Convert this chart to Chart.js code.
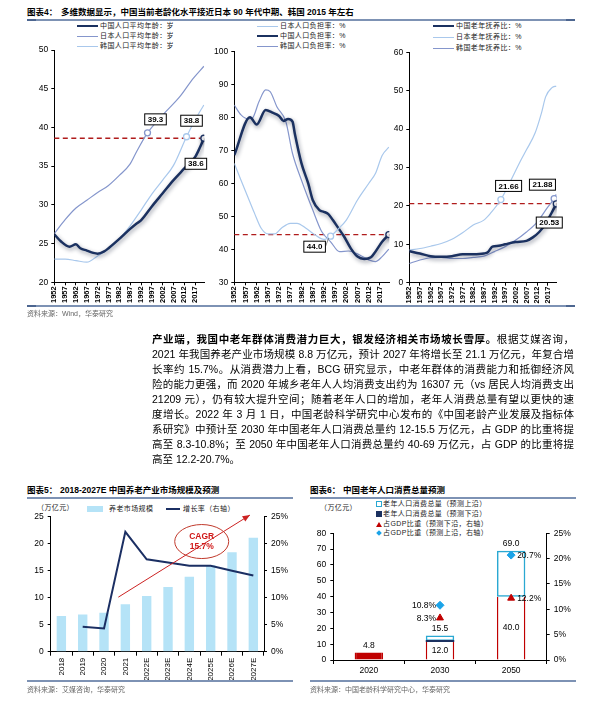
<!DOCTYPE html>
<html>
<head>
<meta charset="utf-8">
<script src="https://cdn.jsdelivr.net/npm/chart.js@4.4.1/dist/chart.umd.min.js"></script>
<style>
  body { margin:0; background:#fff; width:606px; height:725px; position:relative; overflow:hidden;
         font-family:"Liberation Sans","Noto Sans CJK SC",sans-serif; color:#000; }
  .a { position:absolute; white-space:nowrap; }
  .ttl { font-size:8.5px; font-weight:bold; line-height:11px; }
  .rule { position:absolute; height:1.5px; background:#7d92b4; }
  .rule b { position:absolute; top:-0.5px; width:9px; height:2.5px; background:#4d6690; }
  .src { font-size:7px; color:#666; }
  .lg { font-size:7px; color:#222; letter-spacing:0.4px; }
  .lg i { display:inline-block; vertical-align:middle; width:21px; margin-right:2px; }
  .pl { position:absolute; left:152px; width:422px; height:15px; line-height:15px; font-size:10.5px;
        text-align:justify; text-align-last:justify; }
  canvas { position:absolute; }
</style>
</head>
<body>

<!-- 图表4 -->
<div class="a ttl" style="left:27px;top:7px;">图表4：</div>
<div class="a ttl" style="left:61px;top:7px;">多维数据显示，中国当前老龄化水平接近日本 90 年代中期、韩国 2015 年左右</div>
<div class="rule" style="left:27px;top:19px;width:548px;"><b style="left:0"></b><b style="right:0"></b></div>

<div class="a lg" style="left:77px;top:20px;"><i style="height:2.5px;background:#1b3160"></i>中国人口平均年龄：岁</div>
<div class="a lg" style="left:77px;top:30px;"><i style="height:1px;background:#8596cc"></i>日本人口平均年龄：岁</div>
<div class="a lg" style="left:77px;top:40px;"><i style="height:1px;background:#a9c8ec"></i>韩国人口平均年龄：岁</div>

<div class="a lg" style="left:257px;top:20px;"><i style="height:1px;background:#a9c8ec"></i>日本人口负担率：%</div>
<div class="a lg" style="left:257px;top:30px;"><i style="height:2.5px;background:#1b3160"></i>中国人口负担率：%</div>
<div class="a lg" style="left:257px;top:40px;"><i style="height:1px;background:#8596cc"></i>韩国人口负担率：%</div>

<div class="a lg" style="left:433px;top:20px;"><i style="height:2.5px;background:#1b3160"></i>中国老年抚养比：%</div>
<div class="a lg" style="left:433px;top:31px;"><i style="height:1px;background:#a9c8ec"></i>日本老年抚养比：%</div>
<div class="a lg" style="left:433px;top:42px;"><i style="height:1px;background:#8596cc"></i>韩国老年抚养比：%</div>

<canvas id="c1" width="190" height="272" style="left:20px;top:40px;"></canvas>
<canvas id="c2" width="195" height="272" style="left:200px;top:40px;"></canvas>
<canvas id="c3" width="190" height="272" style="left:375px;top:40px;"></canvas>

<div class="rule" style="left:27px;top:305px;width:548px;"><b style="left:0"></b><b style="right:0"></b></div>
<div class="a src" style="left:27px;top:308px;">资料来源：Wind，华泰研究</div>

<!-- 正文 -->
<div class="pl" style="top:332px;"><b>产业端，我国中老年群体消费潜力巨大，银发经济相关市场坡长雪厚。</b>根据艾媒咨询，</div>
<div class="pl" style="top:347px;">2021 年我国养老产业市场规模 8.8 万亿元，预计 2027 年将增长至 21.1 万亿元，年复合增</div>
<div class="pl" style="top:362px;">长率约 15.7%。从消费潜力上看，BCG 研究显示，中老年群体的消费能力和抵御经济风</div>
<div class="pl" style="top:377px;">险的能力更强，而 2020 年城乡老年人人均消费支出约为 16307 元（vs 居民人均消费支出</div>
<div class="pl" style="top:392px;">21209 元），仍有较大提升空间；随着老年人口的增加，老年人消费总量有望以更快的速</div>
<div class="pl" style="top:407px;">度增长。2022 年 3 月 1 日，中国老龄科学研究中心发布的《中国老龄产业发展及指标体</div>
<div class="pl" style="top:422px;">系研究》中预计至 2030 年中国老年人口消费总量约 12-15.5 万亿元，占 GDP 的比重将提</div>
<div class="pl" style="top:437px;">高至 8.3-10.8%；至 2050 年中国老年人口消费总量约 40-69 万亿元，占 GDP 的比重将提</div>
<div class="pl" style="top:452px;text-align-last:left;">高至 12.2-20.7%。</div>

<!-- 图表5 -->
<div class="a ttl" style="left:27px;top:485px;">图表5：</div>
<div class="a ttl" style="left:60px;top:485px;">2018-2027E 中国养老产业市场规模及预测</div>
<div class="rule" style="left:27px;top:497px;width:266px;"></div>
<div class="a lg" style="left:37px;top:502px;">（万亿元）</div>
<div class="a lg" style="left:87px;top:503px;"><i style="width:16px;height:6px;background:#b5e3f7;margin-right:6px"></i>养老市场规模</div>
<div class="a lg" style="left:166px;top:503px;"><i style="width:14px;height:2px;background:#1b2f63;margin-right:3px"></i>增长率（右轴）</div>
<canvas id="c5" width="295" height="180" style="left:15px;top:505px;"></canvas>
<div class="rule" style="left:27px;top:680px;width:266px;"></div>
<div class="a src" style="left:27px;top:684px;">资料来源：艾媒咨询，华泰研究</div>

<!-- 图表6 -->
<div class="a ttl" style="left:310px;top:485px;">图表6：</div>
<div class="a ttl" style="left:343px;top:485px;">中国老年人口消费总量预测</div>
<div class="rule" style="left:310px;top:497px;width:266px;"></div>
<div class="a lg" style="left:320px;top:502px;">（万亿元）</div>
<div class="a lg" style="left:376px;top:498px;"><i style="width:4px;height:4px;border:1px solid #2aa8d2;margin-right:1px"></i>老年人口消费总量（预测上沿）</div>
<div class="a lg" style="left:376px;top:508px;"><i style="width:6px;height:6px;background:#1b3160;margin-right:1px"></i>老年人口消费总量（预测下沿）</div>
<div class="a lg" style="left:376px;top:518px;"><i style="width:0;height:0;border-left:3px solid transparent;border-right:3px solid transparent;border-bottom:5px solid #c00000;margin-right:1px"></i>占GDP比重（预测下沿，右轴）</div>
<div class="a lg" style="left:376px;top:527px;"><i style="width:4px;height:4px;background:#1aa3e8;transform:rotate(45deg);margin:0 2px 0 1px"></i>占GDP比重（预测上沿，右轴）</div>
<canvas id="c6" width="290" height="170" style="left:295px;top:515px;"></canvas>
<div class="rule" style="left:310px;top:680px;width:266px;"></div>
<div class="a src" style="left:310px;top:684px;">资料来源：中国老龄科学研究中心，华泰研究</div>

<script>
// ---------- data ----------
var yearTicks = [1952, 1957, 1962, 1967, 1972, 1977, 1982, 1987, 1992, 1997, 2002, 2007, 2012, 2017];

// 人口平均年龄（岁）
var ageCnYears = [1952, 1955, 1959, 1962, 1964, 1967, 1970, 1972, 1975, 1977, 1982, 1987, 1990, 1992, 1997, 2002, 2007, 2012, 2017, 2019, 2021];
var ageCnVals  = [26.2, 25.3, 24.6, 24.9, 24.4, 24.1, 23.8, 23.7, 24.0, 24.4, 25.6, 26.9, 27.6, 28.0, 29.8, 31.5, 33.2, 34.7, 36.2, 37.3, 38.6];
var ageJpYears = [1952, 1957, 1962, 1967, 1972, 1977, 1982, 1987, 1990, 1995, 2002, 2010, 2016, 2021];
var ageJpVals  = [26.3, 28.1, 29.6, 30.6, 31.6, 32.5, 33.8, 35.3, 36.9, 39.3, 41.6, 44.0, 46.3, 47.9];
var ageKrYears = [1952, 1957, 1962, 1967, 1972, 1977, 1982, 1987, 1992, 1997, 2002, 2007, 2013, 2017, 2021];
var ageKrVals  = [23.0, 23.0, 22.8, 22.6, 23.4, 24.3, 25.6, 27.3, 29.3, 31.4, 33.2, 35.1, 38.8, 41.0, 42.9];

// 人口负担率（%）
var depCnYears = [1952, 1959, 1962, 1966, 1969, 1972, 1974, 1976, 1978, 1979, 1982, 1985, 1987, 1990, 1992, 1994, 1996, 1998, 2001, 2004, 2007, 2010, 2013, 2015, 2018, 2021];
var depCnVals  = [68.6, 80.1, 77.9, 82.3, 81.5, 80.5, 79.0, 79.6, 78.8, 75.2, 66.1, 60.0, 55.0, 51.9, 51.4, 50.7, 48.9, 46.9, 43.9, 40.3, 37.8, 37.1, 37.6, 39.3, 42.3, 44.5];
var depJpYears = [1952, 1955, 1958, 1961, 1964, 1967, 1970, 1973, 1977, 1980, 1984, 1988, 1992, 1995, 1998, 2002, 2007, 2012, 2015, 2018, 2021];
var depJpVals  = [66.1, 61.0, 56.0, 51.0, 46.4, 44.7, 44.7, 46.4, 47.9, 47.9, 46.4, 44.4, 43.0, 44.0, 45.9, 48.9, 55.0, 60.0, 63.0, 68.5, 71.0];
var depKrYears = [1952, 1955, 1958, 1960, 1963, 1966, 1968, 1971, 1975, 1978, 1982, 1987, 1991, 1995, 1999, 2003, 2008, 2012, 2015, 2018, 2021];
var depKrVals  = [83.8, 80.8, 79.6, 79.8, 84.8, 88.4, 87.9, 83.3, 78.8, 69.1, 61.0, 52.0, 45.4, 42.3, 39.3, 39.5, 38.3, 36.8, 36.3, 37.8, 40.1];

// 老年抚养比（%）
var oldCnYears = [1952, 1957, 1962, 1967, 1972, 1977, 1982, 1987, 1989, 1991, 1994, 1997, 2002, 2007, 2010, 2013, 2016, 2019, 2021];
var oldCnVals  = [8.2, 7.6, 6.9, 6.75, 6.9, 7.4, 7.4, 7.6, 8.0, 9.4, 9.6, 10.0, 10.6, 10.9, 11.8, 13.2, 15.4, 18.4, 20.53];
var oldJpYears = [1952, 1957, 1962, 1967, 1972, 1977, 1982, 1987, 1990, 1995, 2000, 2004, 2007, 2011, 2014, 2016, 2019, 2021];
var oldJpVals  = [8.5, 8.9, 9.5, 10.2, 11.3, 13.0, 15.0, 16.3, 18.0, 21.66, 27.0, 31.5, 34.6, 38.9, 44.1, 48.4, 50.8, 51.2];
var oldKrYears = [1952, 1957, 1962, 1967, 1972, 1977, 1982, 1987, 1992, 1997, 2002, 2007, 2012, 2017, 2020, 2021];
var oldKrVals  = [5.0, 5.9, 6.5, 6.6, 6.3, 6.3, 6.6, 6.9, 8.1, 9.4, 11.1, 13.2, 15.8, 19.7, 21.88, 23.0];

// 图表5
var mktCats   = ['2018', '2019', '2020', '2021', '2022E', '2023E', '2024E', '2025E', '2026E', '2027E'];
var mktSize   = [6.6, 6.9, 7.2, 8.8, 10.3, 12.0, 13.9, 16.0, 18.4, 21.1];
var mktGrowth = [null, 4.6, 4.3, 22.2, 17.1, 16.5, 15.9, 15.9, 15.0, 14.1];

// 图表6
var consCats  = ['2020', '2030', '2050'];
var consLow   = [4.8, 12.0, 40.0];
var consHigh  = [null, 15.5, 69.0];
var gdpLow    = [null, 8.3, 12.2];
var gdpHigh   = [null, 10.8, 20.7];

var NAVY = '#1b3160', MID = '#8596cc', LIGHT = '#a9c8ec', DASH = '#b01c1c';

function pts(years, vals) {
  return years.map(function (y, i) { return { x: y, y: vals[i] }; });
}

// dashed reference line, shadow on the thick line, boxed value labels
var boxPlugin = {
  id: 'boxes',
  beforeDatasetsDraw: function (chart, args, opts) {
    if (opts.refY == null) return;
    var c = chart.ctx, a = chart.chartArea, y = chart.scales.y.getPixelForValue(opts.refY);
    c.save(); c.strokeStyle = DASH; c.lineWidth = 1.3; c.setLineDash([5, 3.5]);
    c.beginPath(); c.moveTo(a.left, y); c.lineTo(a.right, y); c.stroke(); c.restore();
  },
  beforeDatasetDraw: function (chart, args) {
    if (chart.data.datasets[args.index].shadow) {
      var c = chart.ctx; c.save();
      c.shadowColor = 'rgba(15,25,50,0.45)'; c.shadowBlur = 4; c.shadowOffsetX = 1; c.shadowOffsetY = 2;
    }
  },
  afterDatasetDraw: function (chart, args) {
    if (chart.data.datasets[args.index].shadow) chart.ctx.restore();
  },
  afterDatasetsDraw: function (chart, args, opts) {
    var c = chart.ctx;
    (opts.boxes || []).forEach(function (b) {
      var ds = chart.data.datasets[b.ds];
      var i = ds.data.findIndex(function (p) { return p.x === b.x; });
      var el = chart.getDatasetMeta(b.ds).data[i];
      var txt = ds.data[i].y.toFixed(b.dec);
      c.save();
      c.font = 'bold 8px "Liberation Sans"';
      var w = c.measureText(txt).width + 6, h = 11;
      var cx = el.x + b.dx, cy = el.y + b.dy;
      if (b.leader) {
        c.strokeStyle = '#666'; c.lineWidth = 0.8;
        c.beginPath(); c.moveTo(cx + w / 2, cy); c.lineTo(el.x - 2, el.y + 2); c.stroke();
      }
      c.fillStyle = '#fff'; c.fillRect(cx - w / 2, cy - h / 2, w, h);
      c.strokeStyle = '#000'; c.lineWidth = 1; c.strokeRect(cx - w / 2, cy - h / 2, w, h);
      c.fillStyle = '#000'; c.textAlign = 'center'; c.textBaseline = 'middle';
      c.fillText(txt, cx, cy + 0.5);
      c.restore();
    });
  }
};

function topChart(id, series, y, box) {
  return new Chart(document.getElementById(id), {
    type: 'line',
    data: {
      datasets: series.map(function (s) {
        return {
          label: s.label, data: pts(s.years, s.vals), borderColor: s.color, borderWidth: s.width,
          cubicInterpolationMode: 'monotone', fill: false, shadow: s.shadow,
          pointRadius: function (ctx) { return ctx.raw && ctx.raw.x === s.mark ? 3 : 0; },
          pointHoverRadius: 0, pointBackgroundColor: '#fff', pointBorderColor: s.color, pointBorderWidth: 1.3
        };
      })
    },
    options: {
      responsive: false, animation: false, events: [],
      layout: { padding: { top: y.padTop, right: y.padRight, left: 0, bottom: 0 } },
      plugins: { legend: { display: false }, tooltip: { enabled: false }, boxes: box },
      scales: {
        x: {
          type: 'linear', min: 1952, max: 2021.2,
          afterBuildTicks: function (s) { s.ticks = yearTicks.map(function (v) { return { value: v }; }); },
          afterFit: function (s) { s.height = y.xh; },
          ticks: { minRotation: 90, maxRotation: 90, autoSkip: false, padding: 1, color: '#000',
                   font: { size: 7.5, weight: 'bold', family: 'Liberation Sans' },
                   callback: function (v) { return String(v); } },
          grid: { drawOnChartArea: false, tickLength: 3, color: '#000' },
          border: { color: '#000' }
        },
        y: {
          min: y.min, max: y.max,
          afterFit: function (s) { s.width = y.yw; },
          ticks: { stepSize: y.step, padding: 3, color: '#000', font: { size: 8.5, family: 'Liberation Sans' } },
          grid: { drawOnChartArea: false, tickLength: 3, color: '#000' },
          border: { color: '#000' }
        }
      }
    },
    plugins: [boxPlugin]
  });
}

topChart('c1', [
  { label: '中国人口平均年龄：岁', years: ageCnYears, vals: ageCnVals, color: NAVY, width: 2.5, shadow: true, mark: 2021 },
  { label: '日本人口平均年龄：岁', years: ageJpYears, vals: ageJpVals, color: MID, width: 1.2, mark: 1995 },
  { label: '韩国人口平均年龄：岁', years: ageKrYears, vals: ageKrVals, color: LIGHT, width: 1.2, mark: 2013 }
], { min: 20, max: 50, step: 5, padTop: 10, padRight: 5.7, yw: 34.3, xh: 29.7 },
   { refY: 38.6, boxes: [
     { ds: 1, x: 1995, dx: 8, dy: -13.5, dec: 1 },
     { ds: 2, x: 2013, dx: 5, dy: -16, dec: 1 },
     { ds: 0, x: 2021, dx: -8, dy: 25.5, dec: 1 } ] });

topChart('c2', [
  { label: '日本人口负担率：%', years: depJpYears, vals: depJpVals, color: LIGHT, width: 1.2, mark: 1995 },
  { label: '中国人口负担率：%', years: depCnYears, vals: depCnVals, color: NAVY, width: 2.5, shadow: true, mark: 2021 },
  { label: '韩国人口负担率：%', years: depKrYears, vals: depKrVals, color: MID, width: 1.2 }
], { min: 30, max: 100, step: 10, padTop: 11.7, padRight: 5.7, yw: 34.3, xh: 29.7 },
   { refY: 44.5, boxes: [ { ds: 0, x: 1995, dx: -16, dy: 10.5, dec: 1, leader: true } ] });

topChart('c3', [
  { label: '中国老年抚养比：%', years: oldCnYears, vals: oldCnVals, color: NAVY, width: 2.5, shadow: true, mark: 2021 },
  { label: '日本老年抚养比：%', years: oldJpYears, vals: oldJpVals, color: LIGHT, width: 1.2, mark: 1995 },
  { label: '韩国老年抚养比：%', years: oldKrYears, vals: oldKrVals, color: MID, width: 1.2, mark: 2020 }
], { min: 0, max: 60, step: 10, padTop: 12.3, padRight: 8.3, yw: 34.3, xh: 29.3 },
   { refY: 20.6, boxes: [
     { ds: 1, x: 1995, dx: 7.7, dy: -13.6, dec: 2 },
     { ds: 2, x: 2020, dx: -11.7, dy: -14, dec: 2 },
     { ds: 0, x: 2021, dx: -7, dy: 18.7, dec: 2 } ] });

// ---------- 图表5 ----------
var cagrPlugin = {
  id: 'cagr',
  afterDatasetsDraw: function (chart, args, o) {
    var c = chart.ctx, xs = chart.scales.x, ys = chart.scales.y;
    var x0 = xs.getPixelForValue(o.from[0]), y0 = ys.getPixelForValue(o.from[1]);
    var x1 = xs.getPixelForValue(o.to[0]), y1 = ys.getPixelForValue(o.to[1]);
    c.save();
    c.strokeStyle = '#cc2222'; c.fillStyle = '#cc2222'; c.lineWidth = 1;
    c.beginPath(); c.moveTo(x0, y0); c.lineTo(x1, y1); c.stroke();
    var ang = Math.atan2(y1 - y0, x1 - x0);
    c.beginPath(); c.moveTo(x1, y1);
    c.lineTo(x1 - 8 * Math.cos(ang - 0.4), y1 - 8 * Math.sin(ang - 0.4));
    c.lineTo(x1 - 8 * Math.cos(ang + 0.4), y1 - 8 * Math.sin(ang + 0.4));
    c.closePath(); c.fill();
    var ex = xs.getPixelForValue(o.at[0]), ey = ys.getPixelForValue(o.at[1]);
    c.strokeStyle = '#c0392b';
    c.beginPath(); c.ellipse(ex, ey, 27, 17, 0, 0, Math.PI * 2); c.stroke();
    c.fillStyle = '#d01818'; c.textAlign = 'center'; c.textBaseline = 'middle';
    c.font = 'bold 8.5px "Liberation Sans"';
    c.fillText('CAGR', ex, ey - 5); c.fillText(o.text, ex, ey + 5);
    c.restore();
  }
};

new Chart(document.getElementById('c5'), {
  data: {
    labels: mktCats,
    datasets: [
      { type: 'line', label: '增长率（右轴）', data: mktGrowth, yAxisID: 'y1', borderColor: '#1b2f63',
        borderWidth: 2, pointRadius: 0, tension: 0, order: 0 },
      { type: 'bar', label: '养老市场规模', data: mktSize, backgroundColor: '#b5e3f7',
        barPercentage: 0.44, categoryPercentage: 1, order: 1 }
    ]
  },
  options: {
    responsive: false, animation: false, events: [],
    layout: { padding: { top: 11.7, right: 0, left: 0, bottom: 0 } },
    plugins: { legend: { display: false }, tooltip: { enabled: false },
               cagr: { from: [2.67, 10.1], to: [8.84, 25.3], at: [6.58, 20.4], text: '15.7%' } },
    scales: {
      x: {
        afterFit: function (s) { s.height = 33.3; },
        ticks: { minRotation: 90, maxRotation: 90, autoSkip: false, padding: 2, color: '#000',
                 font: { size: 8, family: 'Liberation Sans' } },
        grid: { drawOnChartArea: false, tickLength: 4, color: '#000' },
        border: { color: '#000' }
      },
      y: {
        position: 'left', min: 0, max: 25,
        afterFit: function (s) { s.width = 35.7; },
        ticks: { stepSize: 5, padding: 4, color: '#000', font: { size: 8.5, family: 'Liberation Sans' } },
        grid: { drawOnChartArea: false, tickLength: 3, color: '#000' },
        border: { color: '#000' }
      },
      y1: {
        position: 'right', min: 0, max: 25,
        afterFit: function (s) { s.width = 46; },
        ticks: { stepSize: 5, padding: 4, color: '#000', font: { size: 8.5, family: 'Liberation Sans' },
                 callback: function (v) { return v + '%'; } },
        grid: { drawOnChartArea: false, tickLength: 3, color: '#000' },
        border: { color: '#000' }
      }
    }
  },
  plugins: [cagrPlugin]
});

// ---------- 图表6 ----------
var consLabels = {
  id: 'consLabels',
  afterDatasetsDraw: function (chart) {
    var c = chart.ctx;
    var low = chart.getDatasetMeta(0).data, high = chart.getDatasetMeta(1).data;
    c.save();
    c.font = '8.5px "Liberation Sans"'; c.fillStyle = '#000'; c.textBaseline = 'middle'; c.textAlign = 'center';
    // navy top edge of the 2030 lower bound
    var e = low[1];
    c.fillStyle = '#1b3160'; c.fillRect(e.x - e.width / 2, e.y - 1, e.width, 2);
    c.fillStyle = '#000';
    low.forEach(function (el, i) {
      if (consHigh[i] == null) c.fillText(consLow[i].toFixed(1), el.x, el.y - 7);
      else c.fillText(consLow[i].toFixed(1), el.x, (el.y + el.base) / 2);
    });
    high.forEach(function (el, i) {
      if (consHigh[i] != null) c.fillText(consHigh[i].toFixed(1), el.x, el.y - 7);
    });
    [2, 3].forEach(function (d) {
      var vals = d === 2 ? gdpLow : gdpHigh;
      chart.getDatasetMeta(d).data.forEach(function (el, i) {
        if (vals[i] == null) return;
        var left = i === 1;
        c.textAlign = left ? 'right' : 'left';
        c.fillText(vals[i].toFixed(1) + '%', el.x + (left ? -4 : 6), el.y + 0.5);
      });
    });
    c.restore();
  }
};

new Chart(document.getElementById('c6'), {
  data: {
    labels: consCats,
    datasets: [
      { type: 'bar', label: '老年人口消费总量（预测下沿）', data: consLow,
        backgroundColor: ['#c00000', '#ffffff', '#ffffff'], borderColor: '#c00000',
        borderWidth: { left: 1.5, right: 1.5, top: 0, bottom: 0 }, borderSkipped: false,
        barPercentage: 0.4, categoryPercentage: 1, order: 3 },
      { type: 'bar', label: '老年人口消费总量（预测上沿）',
        data: consHigh.map(function (v, i) { return v == null ? null : [consLow[i], v]; }),
        backgroundColor: 'rgba(255,255,255,0)', borderColor: '#2aa8d2', borderWidth: 1.5, borderSkipped: false,
        barPercentage: 0.4, categoryPercentage: 1, order: 2 },
      { type: 'line', label: '占GDP比重（预测下沿，右轴）', data: gdpLow, yAxisID: 'y1', showLine: false,
        pointStyle: 'triangle', pointRadius: 4, pointBackgroundColor: '#c00000', pointBorderColor: '#c00000', order: 1 },
      { type: 'line', label: '占GDP比重（预测上沿，右轴）', data: gdpHigh, yAxisID: 'y1', showLine: false,
        pointStyle: 'rectRot', pointRadius: 4, pointBackgroundColor: '#1aa3e8', pointBorderColor: '#1aa3e8', order: 0 }
    ]
  },
  options: {
    responsive: false, animation: false, events: [],
    layout: { padding: { top: 18.3, right: 0, left: 0, bottom: 0 } },
    plugins: { legend: { display: false }, tooltip: { enabled: false } },
    scales: {
      x: {
        stacked: true,
        afterFit: function (s) { s.height = 25; },
        ticks: { padding: 2, color: '#000', font: { size: 8.5, family: 'Liberation Sans' } },
        grid: { drawOnChartArea: false, tickLength: 4, color: '#000' },
        border: { color: '#000' }
      },
      y: {
        position: 'left', min: 0, max: 80, stacked: false,
        afterFit: function (s) { s.width = 38.3; },
        ticks: { stepSize: 10, padding: 4, color: '#000', font: { size: 8.5, family: 'Liberation Sans' } },
        grid: { drawOnChartArea: false, tickLength: 3, color: '#000' },
        border: { color: '#000' }
      },
      y1: {
        position: 'right', min: 0, max: 25,
        afterFit: function (s) { s.width = 38.3; },
        ticks: { stepSize: 5, padding: 4, color: '#000', font: { size: 8.5, family: 'Liberation Sans' },
                 callback: function (v) { return v + '%'; } },
        grid: { drawOnChartArea: false, tickLength: 3, color: '#000' },
        border: { color: '#000' }
      }
    }
  },
  plugins: [consLabels]
});
</script>
</body>
</html>
